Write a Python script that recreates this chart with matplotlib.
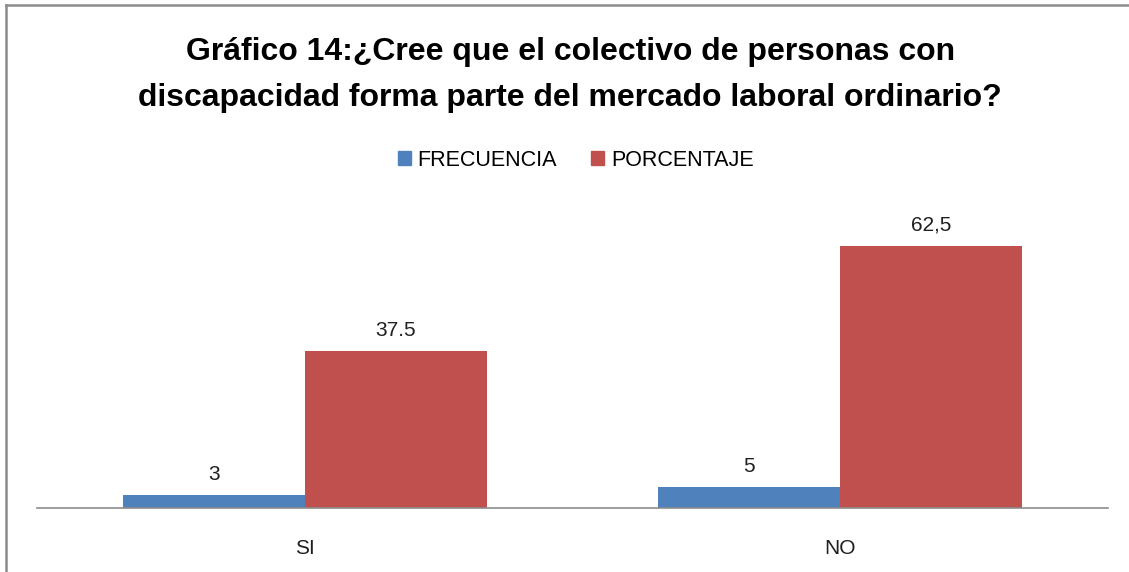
import numpy as np
import matplotlib.pyplot as plt
from matplotlib.lines import Line2D
from matplotlib.patches import Patch

# data
categories = ["SI", "NO"]
frecuencia = [3, 5]
porcentaje = [37.5, 62.5]
frec_labels = ["3", "5"]
porc_labels = ["37.5", "62,5"]

blue = "#4F81BD"
red = "#C0504D"
font = "Liberation Sans"

fig = plt.figure(figsize=(11.29, 5.72), dpi=100)
ax = fig.add_axes([0.0328, 0.1119, 0.9486, 0.5128])

x = np.arange(len(categories))
w = 0.34
b1 = ax.bar(x - w/2, frecuencia, w, color=blue, label="FRECUENCIA")
b2 = ax.bar(x + w/2, porcentaje, w, color=red, label="PORCENTAJE")

for bars, labs in ((b1, frec_labels), (b2, porc_labels)):
    for rect, lab in zip(bars, labs):
        ax.annotate(lab, (rect.get_x() + rect.get_width()/2, rect.get_height()),
                    xytext=(0, 8), textcoords="offset points", ha="center", va="bottom",
                    fontsize=15, family=font, color="#202020")

ax.set_xlim(-0.5, 1.5)
ax.set_ylim(0, 70)
ax.set_xticks(x)
ax.set_xticklabels(categories, fontsize=15, family=font, color="#202020")
ax.tick_params(axis="x", length=0, pad=22)
ax.set_yticks([])
for s in ["top", "left", "right"]:
    ax.spines[s].set_visible(False)
ax.spines["bottom"].set_color("#8c8c8c")
ax.spines["bottom"].set_linewidth(1.2)

fig.text(0.505, 0.869, "Gráfico 14:¿Cree que el colectivo de personas con\n"
         "discapacidad forma parte del mercado laboral ordinario?",
         ha="center", va="center", fontsize=23, fontweight="bold", family=font,
         linespacing=1.7, color="black")

handles = [Patch(color=blue), Patch(color=red)]
fig.legend(handles, ["FRECUENCIA", "PORCENTAJE"], loc="center", bbox_to_anchor=(0.51, 0.72),
           ncol=2, frameon=False, prop={"family": font, "size": 15.5},
           handlelength=0.6, handleheight=0.6, handletextpad=0.3, columnspacing=1.6)

# outer frame (top and left edges)
fig.add_artist(Line2D([0.005, 1.0], [0.991, 0.991], color="#8c8c8c", lw=1.8, transform=fig.transFigure))
fig.add_artist(Line2D([0.0053, 0.0053], [0.0, 0.991], color="#8c8c8c", lw=1.8, transform=fig.transFigure))

fig.savefig("out.png", dpi=100)
